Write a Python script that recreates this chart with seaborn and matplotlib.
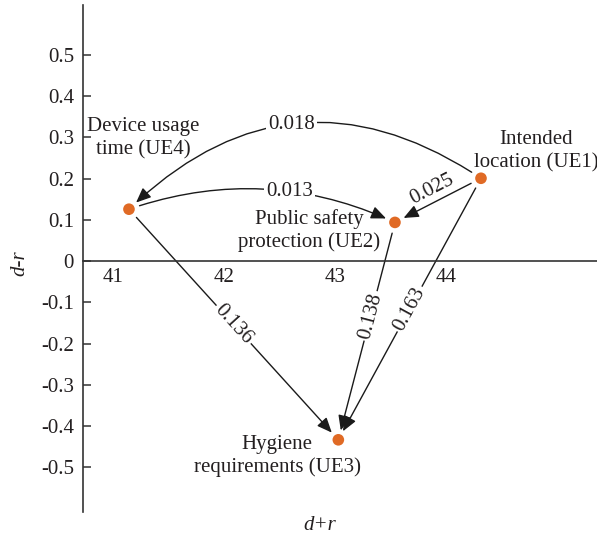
import numpy as np
import pandas as pd
import seaborn as sns
from matplotlib import pyplot as plt

# nodes (d+r, d-r)
node_names = [
    "Intended\nlocation (UE1)",
    "Public safety\nprotection (UE2)",
    "Hygiene\nrequirements (UE3)",
    "Device usage\ntime (UE4)",
]
d_plus_r = [44.315, 43.54, 43.03, 41.144]
d_minus_r = [0.201, 0.094, -0.433, 0.126]

# influence relations between the nodes
edge_src = [0, 3, 0, 3, 1, 0]
edge_dst = [3, 1, 1, 2, 2, 2]
edge_val = ["0.018", "0.013", "0.025", "0.136", "0.138", "0.163"]

x_ticks = [41, 42, 43, 44]
y_ticks = [-0.5, -0.4, -0.3, -0.2, -0.1, 0, 0.1, 0.2, 0.3, 0.4, 0.5]
y_tick_labels = ["-0.5", "-0.4", "-0.3", "-0.2", "-0.1", "0",
                 "0.1", "0.2", "0.3", "0.4", "0.5"]

# drawing style for each edge / node label
edge_rad = [0.4, -0.2, 0, 0, 0, 0]
edge_t = [0.52, 0.6, 0.5, 0.5, 0.43, 0.5]
edge_inline = [True, True, False, True, True, True]
name_offset = [(55, 27), (-86, -8), (-61, -16), (14, 71)]

sns.set_theme(style="ticks")
plt.rcParams["font.family"] = ["Liberation Serif", "DejaVu Serif"]
text_color = "#231f20"
fs = 15

df = pd.DataFrame({"dr_plus": d_plus_r, "dr_minus": d_minus_r, "name": node_names})

fig = plt.figure(figsize=(5.97, 5.39), dpi=100)
ax = fig.add_axes([83 / 597, 27 / 539, 1 - 83 / 597, 507 / 539])

ax.set_xlim(40.73, 45.36)
ax.set_ylim(-0.608, 0.621)

sns.scatterplot(data=df, x="dr_plus", y="dr_minus", color="#e06a25", s=70,
                edgecolor="none", zorder=4, ax=ax, legend=False)

# spines / ticks
ax.spines["right"].set_visible(False)
ax.spines["top"].set_visible(False)
ax.spines["bottom"].set_position(("data", 0))
for s in ["left", "bottom"]:
    ax.spines[s].set_color("#333333")
    ax.spines[s].set_linewidth(1.2)
ax.set_yticks(y_ticks)
ax.set_yticklabels(y_tick_labels)
ax.set_xticks(x_ticks)
ax.set_xticklabels([str(v) for v in x_ticks])
ax.tick_params(axis="y", direction="in", length=6, width=1.1, color="#333333",
               pad=6.5, labelsize=fs, labelcolor=text_color)
ax.tick_params(axis="x", length=0, pad=5, labelsize=fs, labelcolor=text_color)
ax.set_xlabel("")
ax.set_ylabel("")

fig.text(20 / 597, 1 - 263 / 539, "d-r", rotation=90, ha="center", va="center",
         style="italic", fontsize=fs, color=text_color)
fig.text(320 / 597, 1 - 526 / 539, "d+r", ha="center", va="center",
         style="italic", fontsize=fs, color=text_color)

# node labels
for i, name in enumerate(node_names):
    ax.annotate(name, xy=(d_plus_r[i], d_minus_r[i]), xytext=name_offset[i],
                textcoords="offset pixels", ha="center", va="center",
                fontsize=fs, color=text_color, linespacing=1.25,
                annotation_clip=False)

# edges
to_disp = ax.transData
to_data = ax.transData.inverted()
for k in range(len(edge_val)):
    a = np.array([d_plus_r[edge_src[k]], d_minus_r[edge_src[k]]])
    b = np.array([d_plus_r[edge_dst[k]], d_minus_r[edge_dst[k]]])
    rad = edge_rad[k]
    ax.annotate("", xy=b, xytext=a,
                arrowprops=dict(arrowstyle="-|>,head_length=0.75,head_width=0.32",
                                color="#1a1a1a", lw=1.0, shrinkA=8, shrinkB=7,
                                mutation_scale=12,
                                connectionstyle=f"arc3,rad={rad}"),
                zorder=2)
    p0 = to_disp.transform(a)
    p2 = to_disp.transform(b)
    d = p2 - p0
    p1 = (p0 + p2) / 2 + rad * np.array([d[1], -d[0]])
    t = edge_t[k]
    pt = (1 - t) ** 2 * p0 + 2 * t * (1 - t) * p1 + t ** 2 * p2
    tan = 2 * (1 - t) * (p1 - p0) + 2 * t * (p2 - p1)
    ang = np.degrees(np.arctan2(tan[1], tan[0]))
    if ang > 90:
        ang -= 180
    if ang <= -90:
        ang += 180
    if rad != 0:
        ang = 0
    if edge_inline[k]:
        pos = to_data.transform(pt)
        ax.text(pos[0], pos[1], edge_val[k], rotation=ang, rotation_mode="anchor",
                ha="center", va="center", fontsize=fs, color=text_color, zorder=3,
                bbox=dict(facecolor="white", edgecolor="none", pad=1.5))
    else:
        nrm = np.array([-np.sin(np.radians(ang)), np.cos(np.radians(ang))])
        pos = to_data.transform(pt + 12 * nrm)
        ax.text(pos[0], pos[1], edge_val[k], rotation=ang, rotation_mode="anchor",
                ha="center", va="center", fontsize=fs, color=text_color, zorder=3)

fig.savefig("out.png", dpi=100)
